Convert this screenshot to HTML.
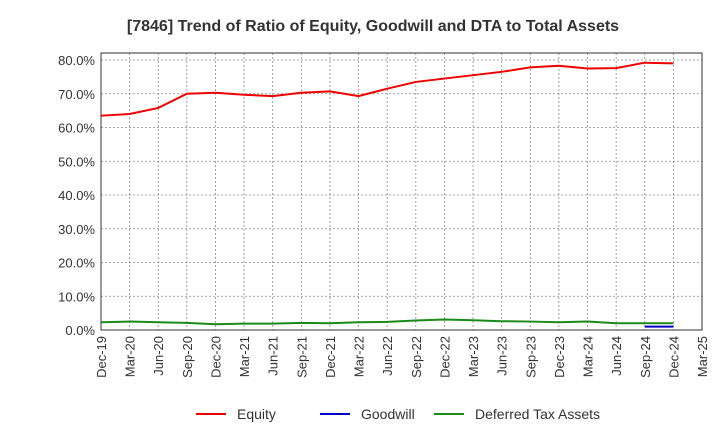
<!DOCTYPE html>
<html><head><meta charset="utf-8"><style>
body{margin:0;background:#fff;font-family:"Liberation Sans",Arial,sans-serif}
svg text{font-family:"Liberation Sans",Arial,sans-serif}
</style></head><body>
<svg id="c" width="720" height="440">
<text x="373" y="31" text-anchor="middle" font-size="16" font-weight="bold" fill="#333">[7846]  Trend of Ratio of Equity, Goodwill and DTA to Total Assets</text>
</svg>
<script>
const categories=["Dec-19","Mar-20","Jun-20","Sep-20","Dec-20","Mar-21","Jun-21","Sep-21","Dec-21","Mar-22","Jun-22","Sep-22","Dec-22","Mar-23","Jun-23","Sep-23","Dec-23","Mar-24","Jun-24","Sep-24","Dec-24","Mar-25"];
const equity=[63.5,64,65.8,70,70.3,69.7,69.3,70.3,70.7,69.3,71.5,73.5,74.5,75.5,76.5,77.8,78.3,77.5,77.6,79.2,79];
const goodwill=[null,null,null,null,null,null,null,null,null,null,null,null,null,null,null,null,null,null,null,1.0,1.0];
const dta=[2.3,2.5,2.3,2.1,1.7,1.9,1.9,2.1,2.0,2.3,2.4,2.8,3.1,2.9,2.6,2.5,2.3,2.5,2.0,2.0,2.0];
const yTicks=[0,10,20,30,40,50,60,70,80];
const NS="http://www.w3.org/2000/svg";
const svg=document.getElementById('c');
const L=101,R=702,T=53,B=330;
const x=i=>L+i*(R-L)/(categories.length-1);
const y=v=>B-v*(B-60)/80;
function mk(t,a,p){const e=document.createElementNS(NS,t);for(const k in a)e.setAttribute(k,a[k]);(p||svg).appendChild(e);return e;}
const plot=mk('rect',{x:L,y:T,width:R-L,height:B-T,fill:'#fff',stroke:'#333','stroke-width':1});


yTicks.forEach(v=>{
 const g=mk('line',{x1:L,x2:R,y1:y(v),y2:y(v),stroke:'#888','stroke-dasharray':'2,2','stroke-width':0.8});
 
 
 const t=mk('text',{x:L-6,y:y(v)+5,'text-anchor':'end','font-size':13,fill:'#333'});t.textContent=v.toFixed(1)+'%';
 
 
});
categories.forEach((c,i)=>{
 const g=mk('line',{x1:x(i),x2:x(i),y1:T,y2:B,stroke:'#888','stroke-dasharray':'2,2','stroke-width':0.8});
 
 
 const t=mk('text',{transform:`translate(${x(i)+5},${B+6}) rotate(-90)`,'text-anchor':'end','font-size':13,fill:'#333'});t.textContent=c;
 
 
});
mk('rect',{x:L,y:T,width:R-L,height:B-T,fill:'none',stroke:'#333','stroke-width':1});
function line(arr,col,name){
 let d='';arr.forEach((v,i)=>{if(v==null)return;d+=(d?'L':'M')+x(i)+','+y(v);});
 const p=mk('path',{d,fill:'none',stroke:col,'stroke-width':2});
 
 
}
line(equity,'#e00','equity-line');
line(goodwill,'#00c','goodwill-line');
line(dta,'#1a8a1a','dta-line');
[["Equity",'#e00',196],["Goodwill",'#00c',320],["Deferred Tax Assets",'#1a8a1a',434]].forEach(([n,c,lx])=>{
 const l=mk('line',{x1:lx,x2:lx+30,y1:414,y2:414,stroke:c,'stroke-width':2});
 
 
 const t=mk('text',{x:lx+41,y:419,'font-size':14,fill:'#333'});t.textContent=n;
 
 
});
</script>
</body></html>
